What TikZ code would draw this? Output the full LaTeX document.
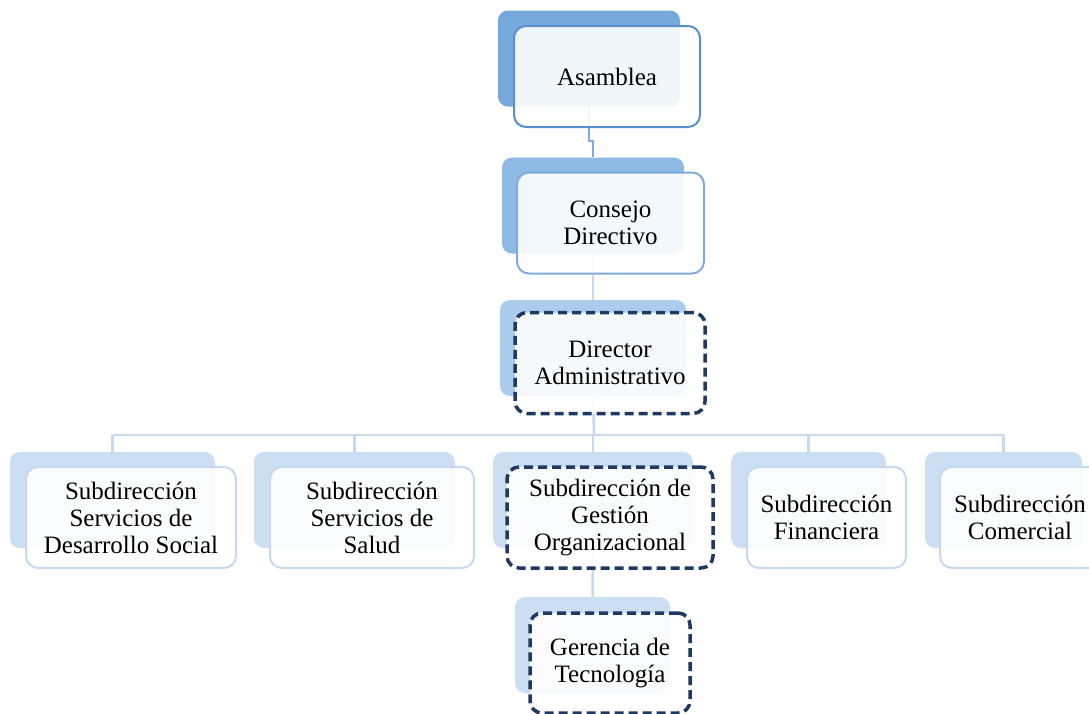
\documentclass[tikz,border=0pt]{standalone}
\usepackage{fontspec}
\setmainfont{Liberation Serif}
\usetikzlibrary{backgrounds}

\definecolor{azulA}{HTML}{75A9DC}
\definecolor{bordeA}{HTML}{5B8FCB}
\definecolor{azulB}{HTML}{8DB9E2}
\definecolor{bordeB}{HTML}{7EABDC}
\definecolor{azulC}{HTML}{ADCBEA}
\definecolor{azulD}{HTML}{CCDFF2}
\definecolor{bordeD}{HTML}{C6D9F0}
\definecolor{marino}{HTML}{1F3864}

\tikzset{
  fondo/.style={rectangle, rounded corners=10pt, draw=none, minimum height=96pt},
  frente/.style={rectangle, rounded corners=12pt, fill=white, fill opacity=0.9,
    text opacity=1, line width=2pt, minimum height=101pt, align=center,
    font=\fontsize{25}{27}\selectfont},
  discont/.style={draw=marino, line width=3.5pt, dash pattern=on 9pt off 5pt},
  conector/.style={draw=bordeD, line width=2.5pt}
}

\begin{document}
\begin{tikzpicture}[x=1pt, y=-1pt]
    \clip (0,0) rectangle (1089,713);

    % niveles superiores
    \node[fondo, fill=azulA, minimum width=182pt] (asambleaB) at (589,58.5) {};
    \node[frente, draw=bordeA, minimum width=186pt] (asamblea) at (607,76.5) {Asamblea};

    \node[fondo, fill=azulB, minimum width=182pt] (consejoB) at (593,205.5) {};
    \node[frente, draw=bordeB, minimum width=187pt] (consejo) at (610.5,223) {Consejo\\Directivo};

    \node[fondo, fill=azulC, minimum width=186pt] (directorB) at (593,348) {};
    \node[frente, discont, minimum width=190pt] (director) at (610,363) {Director\\Administrativo};

    % subdirecciones
    \node[fondo, fill=azulD, minimum width=205pt] (sub1B) at (112.5,500) {};
    \node[frente, draw=bordeD, minimum width=210pt] (sub1) at (131,517.5) {Subdirección\\Servicios de\\Desarrollo Social};

    \node[fondo, fill=azulD, minimum width=201pt] (sub2B) at (354.5,500) {};
    \node[frente, draw=bordeD, minimum width=204pt] (sub2) at (372,517.5) {Subdirección\\Servicios de\\Salud};

    \node[fondo, fill=azulD, minimum width=200pt] (sub3B) at (593,500) {};
    \node[frente, discont, minimum width=206pt] (sub3) at (610,517.5) {Subdirección de\\Gestión\\Organizacional};

    \node[fondo, fill=azulD, minimum width=155pt] (sub4B) at (808.5,500) {};
    \node[frente, draw=bordeD, minimum width=159pt] (sub4) at (826.5,517.5) {Subdirección\\Financiera};

    \node[fondo, fill=azulD, minimum width=157pt] (sub5B) at (1003.5,500) {};
    \node[frente, draw=bordeD, minimum width=160pt] (sub5) at (1020,517.5) {Subdirección\\Comercial};

    \node[fondo, fill=azulD, minimum width=155pt] (gerenciaB) at (592.5,645) {};
    \node[frente, discont, minimum width=160pt, minimum height=100pt] (gerencia) at (610,663) {Gerencia de\\Tecnología};

    % conectores
    \begin{scope}[on background layer]
      \coordinate (bus) at (594,435);
      \draw[conector, draw=bordeB] (asambleaB.south) -- (asambleaB.south |- 0,141) -| (consejoB.north);
      \draw[conector] (consejoB.south) -- (directorB.north);
      \draw[conector] (directorB.south) -- (bus);
      \draw[conector] (sub1B.north |- bus) -- (sub5B.north |- bus);
      \foreach \s in {sub1B, sub2B, sub3B, sub4B, sub5B} {
        \draw[conector] (\s.north |- bus) -- (\s.north);
      }
      \draw[conector] (sub3B.south) -- (gerenciaB.north);
    \end{scope}
\end{tikzpicture}
\end{document}
